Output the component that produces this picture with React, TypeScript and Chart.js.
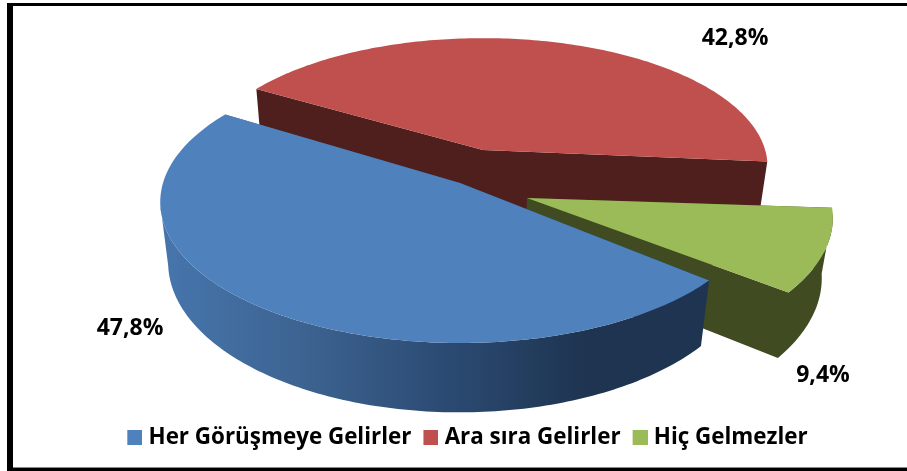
import React, { useEffect, useRef } from "react";
import { Chart, registerables } from "chart.js";

Chart.register(...registerables);

const categories = ["Her Görüşmeye Gelirler", "Ara sıra Gelirler", "Hiç Gelmezler"];
const shares = [47.8, 42.8, 9.4];
const topColors = ["#4F81BD", "#C0504D", "#9BBB59"];
const wallColors = ["#1E3450", "#4F1F1E", "#404B22"];

// 3D look of the pie: a perspective projection of the unit disc, per slice.
const PERSPECTIVE = 0.135;
const RADIUS_X = 297;
const RADIUS_Y = 138.4;
const DEPTH = 60;
const VANISH_X = 440;
const sliceApex = [
  { x: 460, y: 183, scale: 1.0, squash: 1, turn: 0 },
  { x: 483, y: 150, scale: 0.95, squash: 0.96, turn: -1 },
  { x: 527, y: 198, scale: 1.02, squash: 1, turn: -2.2 },
];
const labelSpots = [
  { x: 130, y: 328 },
  { x: 735, y: 38 },
  { x: 823, y: 375 },
];
const FONT = "'Open Sans'";
const LEGEND_SIZE = 22.4;
const LABEL_SIZE = 23;

function pt(i: number, angle: number, r = 1) {
  const a = sliceApex[i];
  const theta = angle + (a.turn * Math.PI) / 180;
  const u = r * a.scale * Math.cos(theta);
  const v = r * a.scale * Math.sin(theta);
  const w = 1 - PERSPECTIVE * v;
  return { x: a.x + (RADIUS_X * u) / w, y: a.y + (RADIUS_Y * a.squash * v) / w, w };
}
function low(p: { x: number; y: number; w: number }) {
  const d = DEPTH / p.w;
  return { x: VANISH_X + (p.x - VANISH_X) * (1 - (0.03 * d) / 65), y: p.y + d };
}
// Fills several extruded edges as one path, all wound the same way, so no seams show.
function bands(ctx: CanvasRenderingContext2D, lines: any[][], style: any) {
  ctx.beginPath();
  for (const raw of lines) {
    const line = raw[0].x <= raw[raw.length - 1].x ? raw : [...raw].reverse();
    line.forEach((p, k) => (k ? ctx.lineTo(p.x, p.y) : ctx.moveTo(p.x, p.y)));
    [...line].reverse().forEach((p) => {
      const q = low(p);
      ctx.lineTo(q.x, q.y);
    });
    ctx.closePath();
  }
  ctx.fillStyle = style;
  ctx.fill();
}

const pie3d = {
  id: "pie3d",
  beforeDatasetsDraw(chart: any) {
    const ctx: CanvasRenderingContext2D = chart.ctx;
    const arcs = chart.getDatasetMeta(0).data;
    ctx.save();
    for (const i of [1, 2, 0]) {
      const { startAngle, endAngle } = arcs[i];
      const steps = Math.ceil(((endAngle - startAngle) * 180) / Math.PI);
      const rim: any[] = [];
      const front: any[] = [];
      for (let s = 0; s <= steps; s++) {
        const theta = startAngle + ((endAngle - startAngle) * s) / steps;
        const p = pt(i, theta);
        rim.push(p);
        if (Math.sin(theta) > PERSPECTIVE) front.push(p);
      }
      let wall: any = wallColors[i];
      if (i === 0) {
        const g = ctx.createLinearGradient(165, 0, 700, 0);
        g.addColorStop(0, "#4675AC");
        g.addColorStop(0.25, "#3D6492");
        g.addColorStop(0.53, "#2B4A72");
        g.addColorStop(0.79, wallColors[0]);
        g.addColorStop(1, wallColors[0]);
        wall = g;
      }
      const apex = pt(i, 0, 0);
      const lines = [[rim[0], apex], [apex, rim[rim.length - 1]]];
      if (front.length > 1) lines.push(front);
      bands(ctx, lines, wall);
      ctx.beginPath();
      ctx.moveTo(apex.x, apex.y);
      for (const p of rim) ctx.lineTo(p.x, p.y);
      ctx.closePath();
      ctx.fillStyle = topColors[i];
      ctx.fill();
    }
    ctx.restore();
    return false;
  },
  afterDraw(chart: any) {
    const ctx: CanvasRenderingContext2D = chart.ctx;
    ctx.save();
    ctx.font = `bold ${LABEL_SIZE}px ${FONT}`;
    ctx.fillStyle = "#000";
    ctx.textAlign = "center";
    ctx.textBaseline = "middle";
    shares.forEach((v, i) => {
      ctx.fillText(`${v.toFixed(1).replace(".", ",")}%`, labelSpots[i].x, labelSpots[i].y);
    });
    ctx.restore();
  },
};

// legend key: 15px square at the right of a wider image, so it sits 6px from its text
function legendKey(color: string) {
  const c = document.createElement("canvas");
  c.width = 21;
  c.height = 15;
  const g = c.getContext("2d") as CanvasRenderingContext2D;
  g.fillStyle = color;
  g.fillRect(6, 0, 15, 15);
  return c;
}

export default function App() {
  const ref = useRef<HTMLCanvasElement>(null);
  useEffect(() => {
    const chart = new Chart(ref.current as HTMLCanvasElement, {
      type: "pie",
      data: {
        labels: categories,
        datasets: [{ data: shares, backgroundColor: topColors, borderWidth: 0 }],
      },
      options: {
        responsive: false,
        animation: false,
        rotation: 130,
        layout: { padding: { bottom: 12, left: 27 } },
        plugins: {
          tooltip: { enabled: false },
          legend: {
            position: "bottom",
            labels: {
              usePointStyle: true,
              boxWidth: 11,
              boxHeight: 15,
              padding: 11,
              color: "#000",
              font: { family: FONT, size: LEGEND_SIZE, weight: "bold" },
              generateLabels: () =>
                categories.map((text, i) => ({
                  text,
                  index: i,
                  fillStyle: topColors[i],
                  strokeStyle: topColors[i],
                  lineWidth: 0,
                  fontColor: "#000",
                  hidden: false,
                  pointStyle: legendKey(topColors[i]),
                })),
            },
          },
        },
      },
      plugins: [pie3d],
    } as any);
    return () => chart.destroy();
  }, []);
  return (
    <div style={{ position: "fixed", left: 0, top: 0, width: 907, height: 471, background: "#fff", overflow: "hidden" }}>
      <canvas ref={ref} width={907} height={471} style={{ display: "block" }} />
      <div
        style={{
          position: "absolute",
          left: 7,
          top: 3,
          width: 900,
          height: 468,
          boxSizing: "border-box",
          borderStyle: "solid",
          borderColor: "#000",
          borderWidth: "3px 0 3px 6px",
          boxShadow: "inset 0 -1px 0 #888",
          pointerEvents: "none",
        }}
      />
    </div>
  );
}
